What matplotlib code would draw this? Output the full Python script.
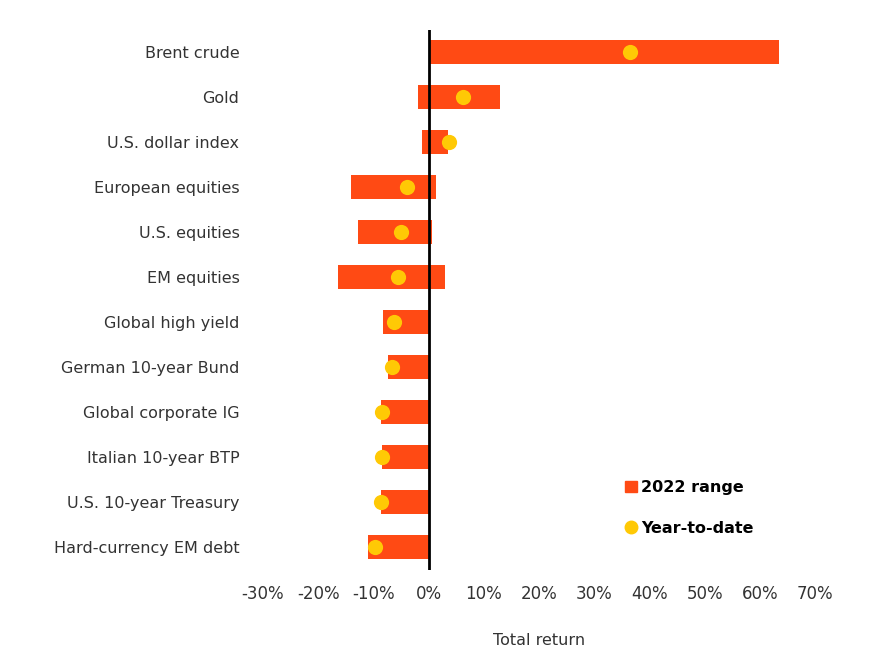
import matplotlib.pyplot as plt
from matplotlib.lines import Line2D
from matplotlib.patches import Patch

plt.rcParams['font.family'] = ['DejaVu Sans']

assets = ["Brent crude", "Gold", "U.S. dollar index", "European equities",
          "U.S. equities", "EM equities", "Global high yield",
          "German 10-year Bund", "Global corporate IG", "Italian 10-year BTP",
          "U.S. 10-year Treasury", "Hard-currency EM debt"]
range_low = [0, -1.9, -1.2, -14.1, -12.8, -16.4, -8.3, -7.3, -8.7, -8.5, -8.7, -11.0]
range_high = [63.5, 12.9, 3.6, 1.4, 0.7, 2.9, 0, 0, 0, 0, 0, 0]
ytd = [36.4, 6.2, 3.7, -4.0, -5.0, -5.5, -6.2, -6.7, -8.4, -8.4, -8.6, -9.8]
xticks = [-30, -20, -10, 0, 10, 20, 30, 40, 50, 60, 70]

orange = "#FF4A14"
yellow = "#FFC905"
textc = "#333333"

fig = plt.figure(figsize=(8.81, 6.65), dpi=100)
ax = fig.add_axes([263 / 881, 1 - 569.5 / 665, (815 - 263) / 881, 540 / 665])

ypos = list(range(len(assets)))
widths = [h - l for l, h in zip(range_low, range_high)]
ax.barh(ypos, widths, left=range_low, height=0.53, color=orange, zorder=2)
ax.axvline(0, color="black", lw=2, zorder=3)
ax.scatter(ytd, ypos, s=120, color=yellow, zorder=4, linewidths=0)

ax.set_xlim(-30, 70)
ax.set_ylim(len(assets) - 0.5, -0.5)
ax.set_yticks(ypos)
ax.set_yticklabels(assets, fontsize=11.5, color=textc)
ax.set_xticks(xticks)
ax.set_xticklabels([f"{t}%" for t in xticks], fontsize=12, color=textc)
ax.tick_params(length=0)
ax.tick_params(axis="y", pad=17)
ax.tick_params(axis="x", pad=11)
for s in ax.spines.values():
    s.set_visible(False)
ax.set_xlabel("Total return", fontsize=11.5, color=textc, labelpad=22)

handles = [Patch(color=orange),
           Line2D([], [], marker="o", ls="none", color=yellow, markersize=9)]
leg = ax.legend(handles, ["2022 range", "Year-to-date"], frameon=False,
                loc="upper left", bbox_to_anchor=(611 / 881, 1 - 466 / 665),
                bbox_transform=fig.transFigure, handlelength=0.7,
                handletextpad=0.3, labelspacing=1.6,
                prop={"size": 11.5, "weight": "bold"})

fig.savefig("out.png", dpi=100)
